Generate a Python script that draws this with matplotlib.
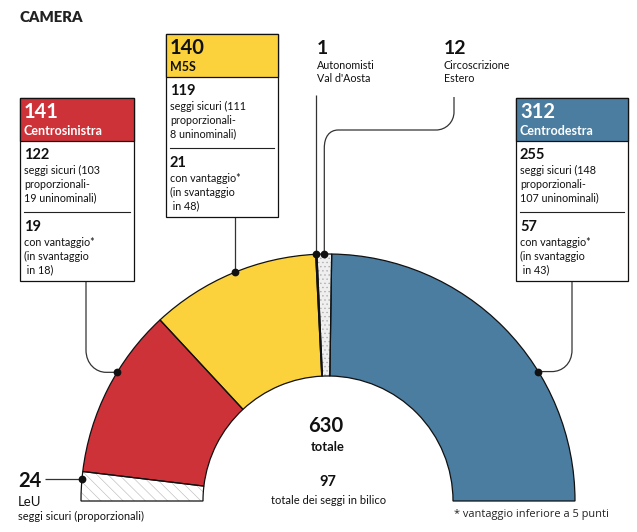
import numpy as np
import matplotlib
matplotlib.use("Agg")
import matplotlib.pyplot as plt
from matplotlib.patches import Wedge, Rectangle, PathPatch
from matplotlib.path import Path

# data
group_names = ["Centrodestra", "Circoscrizione Estero", "Autonomisti Val d'Aosta", "M5S", "Centrosinistra", "LeU"]
group_seats = [312, 12, 1, 140, 141, 24]
group_colors = ["#4A7DA0", "#EFEFEF", "#FFFFFF", "#FBD23C", "#CE3239", "#FFFFFF"]
total_seats = 630
swing_seats = 97

box_m5s = ["140", "M5S", "119", ["seggi sicuri (111", "proporzionali-", "8 uninominali)"], "21", ["con vantaggio*", "(in svantaggio", " in 48)"]]
box_csx = ["141", "Centrosinistra", "122", ["seggi sicuri (103", "proporzionali-", "19 uninominali)"], "19", ["con vantaggio*", "(in svantaggio", " in 18)"]]
box_cdx = ["312", "Centrodestra", "255", ["seggi sicuri (148", "proporzionali-", "107 uninominali)"], "57", ["con vantaggio*", "(in svantaggio", " in 43)"]]

W, H = 637, 532
CX, CY, R_OUT, R_IN = 328, 501, 247, 125
FONT = "Lato"
INK = "#111111"

plt.rcParams["hatch.linewidth"] = 0.45
fig = plt.figure(figsize=(W / 100, H / 100), dpi=100, facecolor="white")
ax = fig.add_axes([0, 0, 1, 1])
ax.set_xlim(0, W)
ax.set_ylim(H, 0)
ax.axis("off")


def polar(angle, r=R_OUT):
    a = np.radians(angle)
    return CX + r * np.cos(a), CY - r * np.sin(a)


def T(x, y, s, size=8, weight="normal", color=INK, ha="left", family=FONT):
    ax.text(x, y, s, fontsize=size, fontweight=weight, color=color, ha=ha, va="baseline", family=family)


# wedges (axis y is inverted, so angles are mirrored for Wedge)
edges = np.concatenate([[0], np.cumsum(group_seats)]) / total_seats * 180
mid = (edges[:-1] + edges[1:]) / 2
for i, (a0, a1, c) in enumerate(zip(edges[:-1], edges[1:], group_colors)):
    if group_names[i] == "LeU":
        ax.add_patch(Wedge((CX, CY), R_OUT, -a1, -a0, width=R_OUT - R_IN, facecolor="white", edgecolor="#BDBDBD", lw=0, hatch="\\\\\\", zorder=2))
    elif group_names[i] == "Circoscrizione Estero":
        ax.add_patch(Wedge((CX, CY), R_OUT, -a1, -a0, width=R_OUT - R_IN, facecolor=c, edgecolor="#AAAAAA", lw=0, hatch="....", zorder=2))
    else:
        ax.add_patch(Wedge((CX, CY), R_OUT, -a1, -a0, width=R_OUT - R_IN, facecolor=c, lw=0, zorder=2))
    ax.add_patch(Wedge((CX, CY), R_OUT, -a1, -a0, width=R_OUT - R_IN, facecolor="none", edgecolor="#111111", lw=0.9, zorder=3))


def connector(verts, codes):
    ax.add_patch(PathPatch(Path(verts, codes), facecolor="none", edgecolor="#333333", lw=0.9, zorder=1))


M, L, C = Path.MOVETO, Path.LINETO, Path.CURVE4

# callouts
csx_xy = polar(148.6)
cdx_xy = polar(31.6)
m5s_xy = polar(112)
leu_xy = polar(175)
aosta_xy = polar(mid[2])
estero_xy = polar(mid[1])

connector([(86, 281), (86, 350), (86, 364), (96, csx_xy[1]), (106, csx_xy[1]), csx_xy],
          [M, L, C, C, C, L])
connector([(572, 281), (572, 350), (572, 364), (562, cdx_xy[1]), (552, cdx_xy[1]), cdx_xy],
          [M, L, C, C, C, L])
connector([(m5s_xy[0], 217), m5s_xy], [M, L])
connector([(aosta_xy[0], 95), aosta_xy], [M, L])
ex = estero_xy[0]
connector([(454, 97), (454, 112), (454, 122), (446, 130), (436, 130), (ex + 14, 130), (ex + 5, 130), (ex, 137), (ex, 148), estero_xy],
          [M, L, C, C, C, L, C, C, C, L])
connector([(45, leu_xy[1]), leu_xy], [M, L])
for xy in (csx_xy, cdx_xy, m5s_xy, aosta_xy, estero_xy, leu_xy):
    ax.plot(*xy, "o", ms=5.6, color="#111111", mew=0, zorder=5)


def box(x0, x1, y0, content, color, head_color):
    head, name, n1, lines1, n2, lines2 = content
    ax.add_patch(Rectangle((x0, y0), x1 - x0, 183, facecolor="white", edgecolor="#111111", lw=0.9, zorder=4))
    ax.add_patch(Rectangle((x0, y0), x1 - x0, 43, facecolor=color, edgecolor="#111111", lw=0.9, zorder=4))
    tx = x0 + 4.5

    def TT(dy, s, **k):
        ax.text(tx, y0 + dy, s, family=FONT, va="baseline", ha="left", zorder=6, **k)
    TT(20, head, fontsize=14.5, fontweight="bold", color=head_color)
    TT(37, name, fontsize=9, fontweight="bold", color=head_color)
    TT(61, n1, fontsize=10.5, fontweight="bold", color=INK)
    for dy, s in zip((76, 90, 103), lines1):
        TT(dy, s, fontsize=7.75, color=INK)
    ax.plot([tx, x1 - 4], [y0 + 114, y0 + 114], color="#222222", lw=0.8, zorder=6)
    TT(133, n2, fontsize=10.5, fontweight="bold", color=INK)
    for dy, s in zip((148, 162, 175), lines2):
        TT(dy, s, fontsize=7.75, color=INK)


box(165.5, 278, 34, box_m5s, group_colors[3], "#111111")
box(19.5, 133.5, 98, box_csx, group_colors[4], "white")
box(515.5, 628, 98, box_cdx, group_colors[0], "white")

T(20, 22, "CAMERA", size=10.7, weight="heavy", color="#222222")

T(317, 54, "1", size=14, weight="bold")
T(317, 69, "Autonomisti", size=7.75)
T(317, 82, "Val d'Aosta", size=7.75)
T(444, 54, "12", size=14, weight="bold")
T(444, 69, "Circoscrizione", size=7.75)
T(444, 82, "Estero", size=7.75)

T(18, 487, "24", size=14.5, weight="bold")
T(18, 505.5, "LeU", size=9.5)
T(18, 520, "seggi sicuri (proporzionali)", size=7.95)

T(326, 432, str(total_seats), size=14.5, weight="bold", ha="center")
T(328, 451, "totale", size=9.3, weight="bold", ha="center")
T(328, 486, str(swing_seats), size=10.5, weight="bold", ha="center")
T(329, 504, "totale dei seggi in bilico", size=8, ha="center")
T(454, 517, "* vantaggio inferiore a 5 punti", size=7.9, color="#222222", family="Open Sans")

fig.savefig("out.png", dpi=100, facecolor="white")
